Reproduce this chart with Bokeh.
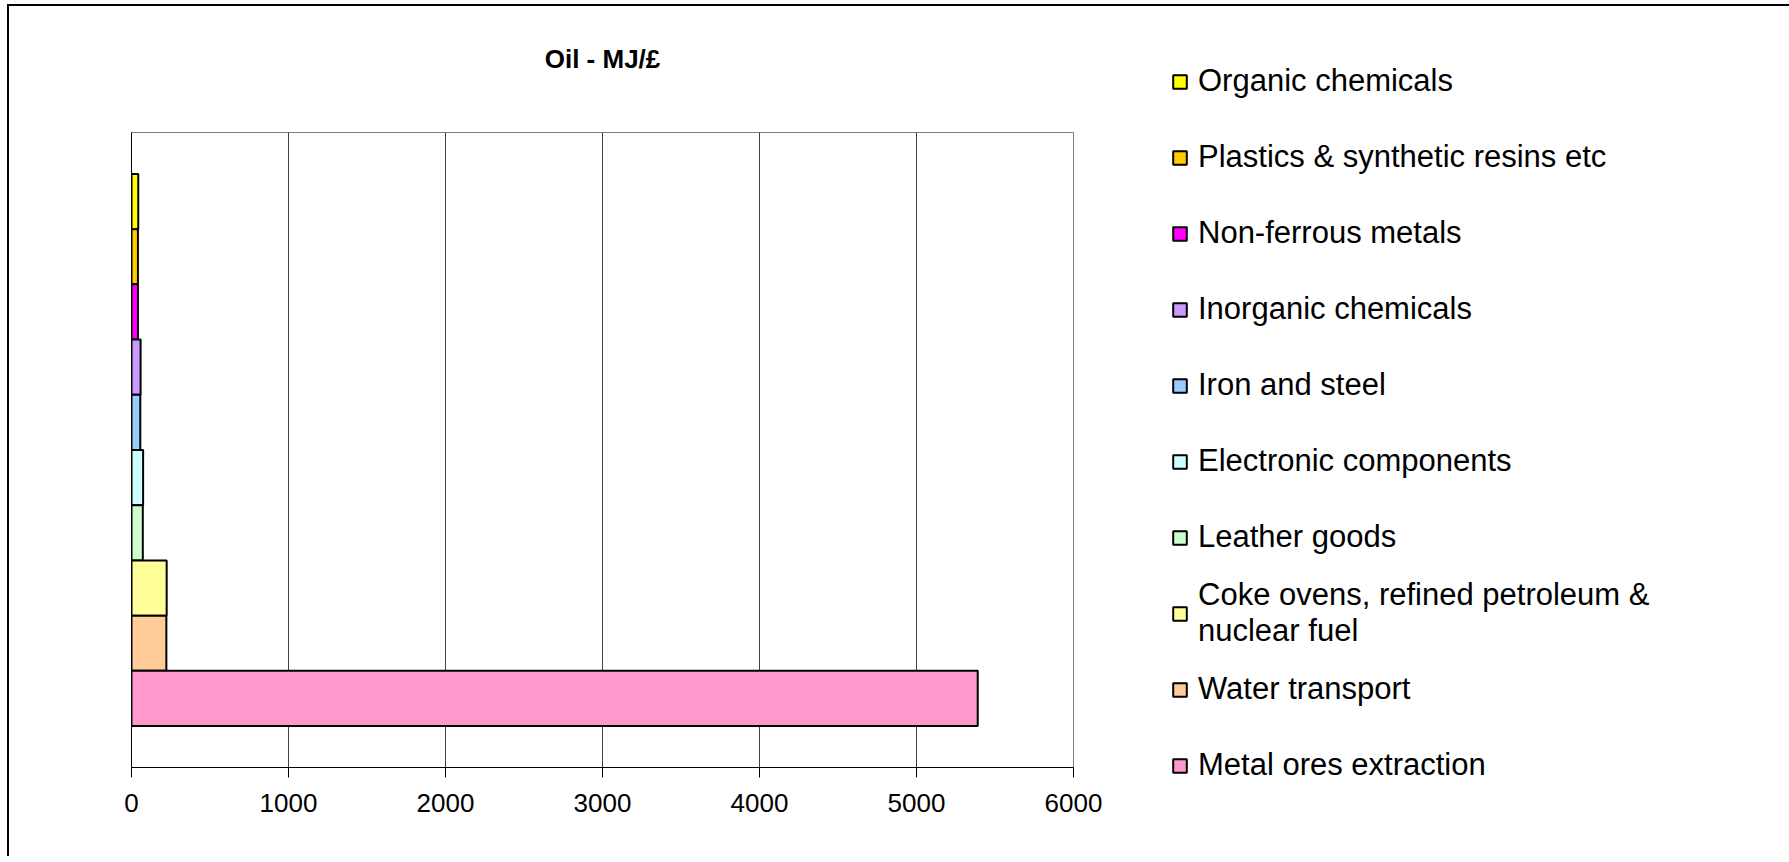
from bokeh.plotting import figure
from bokeh.models import ColumnDataSource, Range1d, FixedTicker, Legend, LegendItem, Title
from bokeh.core.properties import value
from bokeh.embed import file_html
from bokeh.resources import INLINE

# ---- data (top of legend / chart first) ----
sectors = [
    "Organic chemicals",
    "Plastics & synthetic resins etc",
    "Non-ferrous metals",
    "Inorganic chemicals",
    "Iron and steel",
    "Electronic components",
    "Leather goods",
    "Coke ovens, refined petroleum &\nnuclear fuel",
    "Water transport",
    "Metal ores extraction",
]
oil_mj_per_gbp = [43, 41, 41, 58, 56, 74, 72, 224, 222, 5390]
colors = ["#FFFF00", "#FFCC00", "#FF00FF", "#CC99FF", "#99CCFF",
          "#CCFFFF", "#CCFFCC", "#FFFF99", "#FFCC99", "#FF99CC"]
x_ticks = [0, 1000, 2000, 3000, 4000, 5000, 6000]

n = len(sectors)
pos = [n - 1 - i for i in range(n)]

src = ColumnDataSource(dict(y=pos, v=oil_mj_per_gbp, c=colors, name=sectors))

FONT = "Liberation Sans"

p = figure(frame_width=942, frame_height=635, output_backend="svg", toolbar_location=None,
           x_range=Range1d(0, 6000), y_range=Range1d(-1.25, n - 1 + 1.25),
           min_border_left=122, min_border_top=126, min_border_right=708,
           min_border_bottom=89)
p.styles = {"border-left": "2px solid #000", "border-top": "2px solid #000",
            "border-right": "2px solid #000",
            "margin-left": "7px", "margin-top": "4px"}

r = p.hbar(y="y", right="v", left=0, height=1.0, source=src,
           fill_color="c", line_color="#000000", line_width=2)

# spacer between frame and title (keeps the frame where it is)
p.add_layout(Title(text=" ", text_font_size="10px", standoff=16), "above")

# title
p.title.text = "Oil - MJ/£"
p.title.align = "center"
p.title.text_font = FONT
p.title.text_font_size = "26px"
p.title.text_font_style = "bold"
p.title.text_color = "#000000"
p.title.standoff = 60

# frame
p.outline_line_color = "#808080"
p.outline_line_width = 1
p.background_fill_color = "#FFFFFF"

# x axis
p.xaxis.ticker = FixedTicker(ticks=x_ticks)
p.xaxis.axis_line_color = "#000000"
p.xaxis.axis_line_width = 1
p.xaxis.major_tick_line_color = "#000000"
p.xaxis.major_tick_out = 10
p.xaxis.major_tick_in = 0
p.xaxis.minor_tick_line_color = None
p.xaxis.major_label_text_font = FONT
p.xaxis.major_label_text_font_size = "26px"
p.xaxis.major_label_text_color = "#000000"
p.xaxis.major_label_standoff = 16

# y axis (line only)
p.yaxis.ticker = FixedTicker(ticks=[])
p.yaxis.axis_line_color = "#000000"
p.yaxis.major_tick_line_color = None
p.yaxis.minor_tick_line_color = None
p.yaxis.major_label_text_font_size = "0px"

# grid
p.ygrid.grid_line_color = None
p.xgrid.ticker = FixedTicker(ticks=x_ticks)
p.xgrid.grid_line_color = "#404040"
p.xgrid.grid_line_width = 1

# legend (in the right side panel)
items = [LegendItem(label=value(s), renderers=[r], index=i) for i, s in enumerate(sectors)]
leg = Legend(items=items, location=(98, -36), orientation="vertical",
             label_text_font=FONT, label_text_font_size="31px",
             label_text_color="#000000", label_height=76, spacing=0,
             glyph_width=17, glyph_height=17, label_standoff=10,
             padding=0, margin=0, border_line_color=None,
             background_fill_alpha=0)
p.add_layout(leg, "right")

open("out.html", "w").write(file_html(p, INLINE))
